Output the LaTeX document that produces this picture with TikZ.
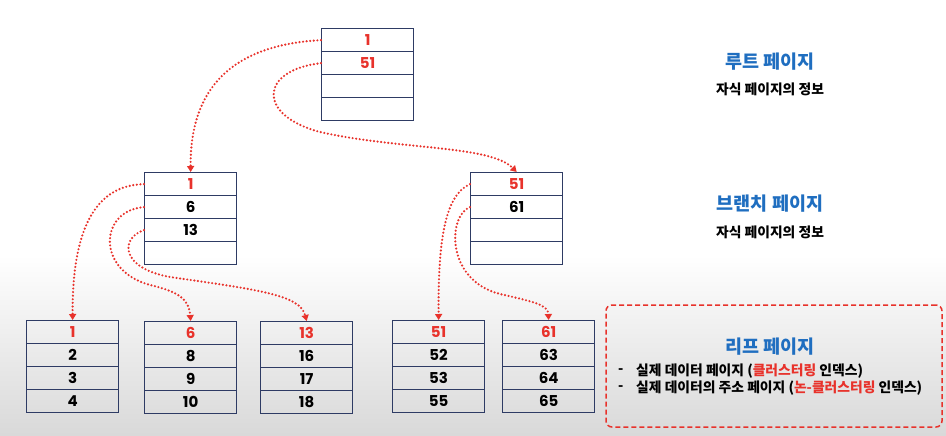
\documentclass[tikz,border=0pt]{standalone}
\usepackage{fontspec}
\setmainfont{Noto Sans CJK KR}
\newfontfamily\numfont{Poppins}
\usetikzlibrary{arrows.meta}
\definecolor{pgred}{HTML}{E8322B}
\definecolor{pgnavy}{HTML}{2E3B64}
\definecolor{pgblue}{HTML}{1F6EC0}
\newcommand\mkpage[7]{%
  \node[cell] (#1-1) at (#2,#3) {\textcolor{pgred}{#4}};
  \node[cell] (#1-2) at (#2,#3+23) {#5};
  \node[cell] (#1-3) at (#2,#3+46) {#6};
  \node[cell] (#1-4) at (#2,#3+69) {#7};
}
\begin{document}
\begin{tikzpicture}[x=1pt,y=-1pt,
  cell/.style={draw=pgnavy, line width=1.3pt, minimum width=92pt, minimum height=23pt,
    inner sep=0pt, anchor=north west, font=\numfont\bfseries\fontsize{15}{15}\selectfont},
  arr/.style={pgred, line width=2.4pt, dash pattern=on 0pt off 3.6pt, line cap=round,
    -{Triangle[width=7pt,length=6pt]}},
  title/.style={font=\bfseries\fontsize{18.5}{18.5}\selectfont, text=pgblue, inner sep=1pt},
  sub/.style={font=\bfseries\fontsize{13.8}{13.8}\selectfont, inner sep=1pt},
  bul/.style={font=\bfseries\fontsize{13.8}{13.8}\selectfont, anchor=west, inner sep=0pt}
  ]
\useasboundingbox (0,0) rectangle (946,436);
\fill[white] (0,0) rectangle (946,436);
\shade[top color=white, bottom color=black!15] (0,255) rectangle (946,436);

\mkpage{root}{321}{28}{1}{\textcolor{pgred}{51}}{}{}
\mkpage{bl}{144}{172}{1}{6}{13}{}
\mkpage{br}{470}{172}{51}{61}{}{}
\mkpage{la}{26}{320}{1}{2}{3}{4}
\mkpage{lb}{144}{321}{6}{8}{9}{10}
\mkpage{lc}{260}{321}{13}{16}{17}{18}
\mkpage{ld}{392}{320}{51}{52}{53}{55}
\mkpage{le}{502}{320}{61}{63}{64}{65}

\draw[arr] (root-1.west) .. controls (230,45) and (190,90) .. (bl-1.north);
\draw[arr] (root-2.west) .. controls (260,70) and (256,115) .. (320,132)
  .. controls (400,150) and (490,145) .. (br-1.north);
\draw[arr] (bl-1.west) .. controls (95,185) and (72,230) .. (la-1.north);
\draw[arr] (bl-2.west) .. controls (100,210) and (95,270) .. (150,285)
  .. controls (180,292) and (189,300) .. (lb-1.north);
\draw[arr] (bl-3.west) .. controls (120,238) and (120,268) .. (170,277)
  .. controls (260,290) and (300,295) .. (lc-1.north);
\draw[arr] (br-1.west) .. controls (445,195) and (438,240) .. (ld-1.north);
\draw[arr] (br-2.west) .. controls (448,215) and (445,280) .. (500,294)
  .. controls (535,302) and (548,305) .. (le-1.north);

\node[title] (rt) at (770,62) {루트 페이지};
\node[sub] (rts) at (770,89) {자식 페이지의 정보};
\node[title] (bt) at (770,204) {브랜치 페이지};
\node[sub] (bts) at (770,232) {자식 페이지의 정보};

\node[draw=pgred, line width=1.5pt, dash pattern=on 5pt off 3pt, rounded corners=6pt,
  minimum width=336pt, minimum height=122pt] (leafbox) at (774,366) {};
\node[title] (lt) at (770,347) {리프 페이지};
\node[bul] (d1) at (618,371) {-};
\node[bul] (l1) at (636,371) {실제 데이터 페이지 (\textcolor{pgred}{클러스터링} 인덱스)};
\node[bul] (d2) at (618,388) {-};
\node[bul] (l2) at (636,388) {실제 데이터의 주소 페이지 (\textcolor{pgred}{논-클러스터링} 인덱스)};
\end{tikzpicture}
\end{document}
